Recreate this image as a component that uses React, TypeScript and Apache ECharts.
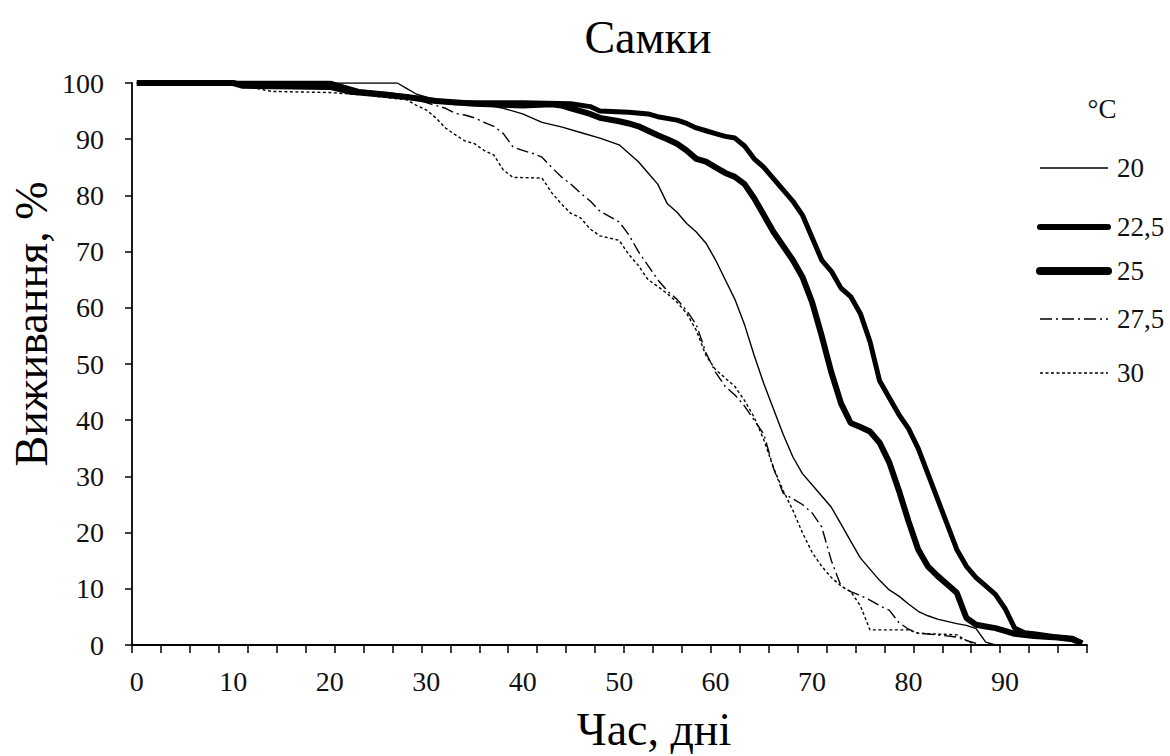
import React, { useEffect, useRef } from "react";
import * as echarts from "echarts";

// Categories: days 0..98
const days: string[] = Array.from({ length: 99 }, (_, i) => String(i));
const yTicks = [0, 10, 20, 30, 40, 50, 60, 70, 80, 90, 100];
const seriesNames = ["20", "22,5", "25", "27,5", "30"];

const s20: [number, number][] = [
  [0, 100], [27, 100], [28, 99], [29, 98], [31, 97], [35, 96.5], [38, 95.5], [40, 94.5], [42, 93],
  [44, 92.2], [46, 91.2], [48, 90.2], [50, 89], [51, 87.5], [52, 86], [53, 84], [54, 82], [55, 78.5],
  [56, 77], [57, 75], [58, 73.5], [59, 71.5], [60, 68.5], [61, 65], [62, 61.5], [63, 57], [64, 51.5],
  [65, 46.5], [66, 42], [67, 37.5], [68, 33.5], [69, 30.5], [70, 28.5], [71, 26.5], [72, 24.5],
  [73, 21.5], [74, 18.5], [75, 15.5], [76, 13.5], [77, 11.5], [78, 9.8], [79, 8.7], [80, 7.3], [81, 6],
  [82, 5.2], [83, 4.6], [84, 4.2], [85, 3.8], [86, 3.5], [87, 2.9], [88, 0.5], [89, 0],
];

const s22_5: [number, number][] = [
  [0, 100], [20, 100], [21, 99.5], [23, 98.5], [26, 98], [28, 97.5], [30, 97], [33, 96.5], [40, 96.5],
  [45, 96.3], [47, 95.8], [48, 95], [51, 94.8], [53, 94.5], [54, 94], [56, 93.4], [57, 92.8], [58, 92],
  [59, 91.5], [60, 91], [61, 90.5], [62, 90.2], [63, 88.8], [64, 86.5], [65, 85], [66, 83], [67, 81],
  [68, 79], [69, 76.5], [70, 72.5], [71, 68.5], [72, 66.5], [73, 63.5], [74, 62], [75, 59], [76, 54],
  [77, 47], [78, 44], [79, 41], [80, 38.5], [81, 35], [82, 30.5], [83, 26], [84, 21.5], [85, 17],
  [86, 14], [87, 12], [88, 10.5], [89, 9], [90, 6.5], [91, 3], [92, 2.2], [93, 2], [95, 1.5], [97, 1.2],
  [98, 0.3],
];

const s25: [number, number][] = [
  [0, 100], [10, 100], [11, 99.5], [20, 99.3], [22, 98.5], [25, 98], [28, 97.5], [31, 96.8], [35, 96.3],
  [40, 96], [43, 96.2], [44, 96], [45, 95.5], [46, 95], [47, 94.5], [48, 93.8], [50, 93.2], [51, 92.8],
  [52, 92.3], [53, 91.5], [54, 90.7], [55, 90], [56, 89.2], [57, 88], [58, 86.5], [59, 86], [60, 85],
  [61, 84], [62, 83.3], [63, 82], [64, 79.5], [65, 76.5], [66, 73.5], [67, 71], [68, 68.5], [69, 65.5],
  [70, 61], [71, 55], [72, 48.5], [73, 43], [74, 39.5], [75, 38.8], [76, 38], [77, 36], [78, 32.5],
  [79, 27.5], [80, 22], [81, 17], [82, 14], [83, 12.3], [84, 10.8], [85, 9.3], [86, 4.8], [87, 3.6],
  [88, 3.3], [89, 3], [90, 2.5], [91, 2], [93, 1.6], [95, 1.4], [97, 1], [98, 0.3],
];

const s27_5: [number, number][] = [
  [0, 100], [11, 100], [12, 99.3], [20, 99], [22, 98.5], [25, 98], [28, 97.5], [30, 96.5], [32, 95.5],
  [33, 94.6], [34, 94.3], [35, 93.8], [36, 93], [37, 92.3], [38, 91], [39, 88.6], [40, 88], [41, 87.5],
  [42, 86.8], [43, 85], [44, 83.3], [45, 82], [46, 80.4], [47, 79], [48, 77.2], [50, 75.3], [51, 73],
  [52, 70], [53, 67.5], [54, 65], [55, 63], [56, 61.5], [57, 59.5], [58, 57], [59, 52], [60, 48.5],
  [61, 46], [62, 44.5], [63, 42.5], [64, 40], [65, 37.5], [66, 31.5], [67, 27], [68, 26], [69, 25],
  [70, 23.5], [71, 21], [72, 15], [73, 10.5], [74, 9.5], [75, 8.8], [76, 8], [77, 7], [78, 6.2], [79, 4],
  [80, 2.8], [81, 2.1], [83, 1.8], [85, 1.4], [86, 0.8], [87, 0.3],
];

const s30: [number, number][] = [
  [0, 100], [10, 100], [11, 99.5], [14, 98.5], [20, 98.3], [24, 97.8], [28, 97], [29, 96], [30, 95.2],
  [31, 93.8], [32, 92], [33, 90.8], [34, 89.7], [35, 89.2], [36, 88], [37, 87.2], [38, 84.5], [39, 83.2],
  [42, 83.1], [43, 80.5], [44, 78.5], [45, 76.8], [46, 76], [47, 74], [48, 72.8], [50, 72], [51, 69.5],
  [52, 67.5], [53, 65], [54, 63.8], [55, 62.5], [56, 61], [57, 59], [58, 56], [59, 51.5], [60, 49],
  [61, 47.5], [62, 46], [63, 43.5], [64, 40.5], [65, 36.5], [66, 31.5], [67, 27.5], [68, 24], [69, 20],
  [70, 16.5], [71, 14], [72, 12], [73, 10.5], [74, 9.5], [75, 7], [76, 2.7], [80, 2.7], [81, 2.1],
  [85, 1.8], [86, 0.8], [87, 0],
];

const FONT = "Liberation Serif";

export default function App() {
  const ref = useRef<HTMLDivElement>(null);
  useEffect(() => {
    if (!ref.current) return;
    const chart = echarts.init(ref.current, null, { renderer: "svg" });
    const datasets = [s20, s22_5, s25, s27_5, s30];
    const styles: any[] = [
      { width: 1.4, type: "solid" },
      { width: 5, type: "solid" },
      { width: 6, type: "solid" },
      { width: 1.4, type: [12, 4, 2, 4] },
      { width: 1.4, type: [3, 2.5] },
    ];
    // manual legend (line samples + labels)
    const legendRowsY = [168, 227, 271, 319, 373];
    const legendWidths = [1.4, 6, 8, 1.4, 1.4];
    const legendDash: any[] = [null, null, null, [12, 4, 2, 4], [3, 2.5]];
    const legendGraphics: any[] = [];
    seriesNames.forEach((name, i) => {
      legendGraphics.push({
        type: "line",
        shape: { x1: 1040, y1: legendRowsY[i], x2: 1108, y2: legendRowsY[i] },
        style: {
          stroke: "#000",
          lineWidth: legendWidths[i],
          lineDash: legendDash[i] || undefined,
          lineCap: i === 1 || i === 2 ? "round" : "butt",
        },
      });
      legendGraphics.push({
        type: "text",
        x: 1117,
        y: legendRowsY[i],
        style: {
          text: name,
          fontFamily: FONT,
          fontSize: 27,
          fill: "#111",
          textAlign: "left",
          textVerticalAlign: "middle",
        },
      });
    });
    chart.setOption({
      animation: false,
      backgroundColor: "#ffffff",
      grid: { left: 132, right: 83, top: 83, bottom: 111, containLabel: false },
      xAxis: {
        type: "category",
        data: days,
        boundaryGap: true,
        axisLine: { show: true, lineStyle: { color: "#000", width: 1.8 } },
        axisTick: { show: true, inside: false, interval: 2, length: 8, lineStyle: { color: "#000", width: 1.5 } },
        axisLabel: {
          interval: 9,
          color: "#111",
          fontFamily: FONT,
          fontSize: 28,
          margin: 22,
        },
        splitLine: { show: false },
      },
      yAxis: {
        type: "value",
        min: 0,
        max: 100,
        interval: 10,
        axisLine: { show: true, lineStyle: { color: "#000", width: 1.8 } },
        axisTick: { show: true, inside: false, length: 7, lineStyle: { color: "#000", width: 1.5 } },
        axisLabel: {
          color: "#111",
          fontFamily: FONT,
          fontSize: 28,
          margin: 28,
          formatter: (v: number) => (yTicks.includes(v) ? String(v) : ""),
        },
        splitLine: { show: false },
      },
      legend: { show: false, data: seriesNames },
      graphic: [
        {
          type: "text",
          x: 648,
          y: 37,
          style: {
            text: "Самки",
            fontFamily: FONT,
            fontSize: 46,
            fill: "#000",
            textAlign: "center",
            textVerticalAlign: "middle",
          },
        },
        {
          type: "text",
          x: 654,
          y: 729,
          style: {
            text: "Час, дні",
            fontFamily: FONT,
            fontSize: 46,
            fill: "#000",
            textAlign: "center",
            textVerticalAlign: "middle",
          },
        },
        {
          type: "text",
          x: 31,
          y: 324,
          rotation: Math.PI / 2,
          style: {
            text: "Виживання, %",
            fontFamily: FONT,
            fontSize: 46,
            fill: "#000",
            textAlign: "center",
            textVerticalAlign: "middle",
          },
        },
        {
          type: "text",
          x: 1102,
          y: 109,
          style: {
            text: "°C",
            fontFamily: FONT,
            fontSize: 27,
            fill: "#111",
            textAlign: "center",
            textVerticalAlign: "middle",
          },
        },
        ...legendGraphics,
      ],
      series: seriesNames.map((name, i) => ({
        name,
        type: "line",
        data: datasets[i],
        symbol: "none",
        showSymbol: false,
        smooth: false,
        color: "#000",
        lineStyle: { color: "#000", ...styles[i] },
        z: i === 1 || i === 2 ? 3 : 4,
      })),
    });
    return () => chart.dispose();
  }, []);
  return (
    <div
      ref={ref}
      style={{ position: "absolute", left: 0, top: 0, width: 1170, height: 756, background: "#fff" }}
    />
  );
}
